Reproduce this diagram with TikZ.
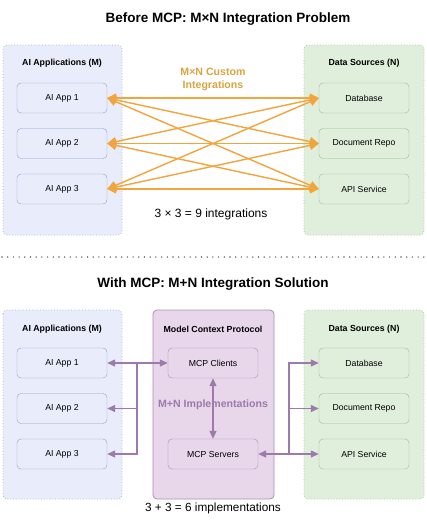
\documentclass[tikz,border=0pt]{standalone}
\usepackage{fontspec}
\setmainfont{Liberation Sans}
\usetikzlibrary{arrows.meta}

\definecolor{appfill}{HTML}{E9EDFB}
\definecolor{appline}{HTML}{8FA0C6}
\definecolor{srcfill}{HTML}{E0EFDC}
\definecolor{srcline}{HTML}{94BF88}
\definecolor{mcpfill}{HTML}{E8D6EB}
\definecolor{mcpline}{HTML}{A890B2}
\definecolor{orangeline}{HTML}{F2A53C}
\definecolor{orangetext}{HTML}{DBA43E}
\definecolor{purpleline}{HTML}{9C7AAA}

\tikzset{
  groupbox/.style={rounded corners=4pt, dotted, line width=0.8pt},
  appgroup/.style={groupbox, draw=appline!80, fill=appfill},
  srcgroup/.style={groupbox, draw=srcline!80, fill=srcfill},
  itembox/.style={draw, rounded corners=4pt, minimum width=90pt, minimum height=30pt,
    font=\fontsize{8.7}{10}\selectfont},
  appbox/.style={itembox, draw=appline, fill=appfill},
  srcbox/.style={itembox, draw=srcline, fill=srcfill},
  mcpbox/.style={itembox, draw=mcpline, fill=mcpfill},
  grouptitle/.style={font=\bfseries\fontsize{8.8}{10}\selectfont},
  bigtitle/.style={font=\bfseries\fontsize{13.5}{15}\selectfont},
  orangearrow/.style={draw=orangeline, line width=1.4pt, {Triangle[length=9pt,width=9pt]}-{Triangle[length=9pt,width=9pt]}},
  purplearrow/.style={draw=purpleline, line width=1.3pt},
  ptip/.style={-{Triangle[length=8pt,width=7pt]}},
  pboth/.style={{Triangle[length=8pt,width=7pt]}-{Triangle[length=8pt,width=7pt]}},
}

\begin{document}
\begin{tikzpicture}[x=1pt,y=-1pt]
  \useasboundingbox (0,0) rectangle (427,520);
  \fill[white] (0,0) rectangle (427,520);

  % ---- before MCP ----
  \node[bigtitle] (toptitle) at (228,19) {Before MCP: M×N Integration Problem};
  \draw[appgroup] (3,45) rectangle (122,235);
  \draw[srcgroup] (304,45) rectangle (424,235);
  \node[grouptitle] (apptitle) at (62,63) {AI Applications (M)};
  \node[grouptitle] (srctitle) at (364,63) {Data Sources (N)};

  \node[appbox] (app1) at (62,98) {AI App 1};
  \node[appbox] (app2) at (62,143.5) {AI App 2};
  \node[appbox] (app3) at (62,189) {AI App 3};
  \node[srcbox] (db) at (364,98) {Database};
  \node[srcbox] (doc) at (364,143.5) {Document Repo};
  \node[srcbox] (api) at (364,189) {API Service};

  \foreach \a in {app1,app2,app3}
    \foreach \d in {db,doc,api}
      \draw[orangearrow] (\a.east) -- (\d.west);

  \node[font=\bfseries\fontsize{10.6}{13}\selectfont, text=orangetext, align=center] (mxn) at (213,79.5) {M×N Custom\\Integrations};
  \node[font=\fontsize{12}{14}\selectfont] (nine) at (211,214) {3 × 3 = 9 integrations};

  % separator
  \draw[black!60, line width=1.6pt, line cap=round, dash pattern=on 0pt off 5.7pt] (2,257) -- (427,257);

  % ---- with MCP ----
  \node[bigtitle] (bottitle) at (213,284) {With MCP: M+N Integration Solution};
  \draw[appgroup] (3,310) rectangle (122,499);
  \draw[rounded corners=4pt, draw=mcpline, fill=mcpfill, line width=0.8pt] (153,310) rectangle (274,499);
  \draw[srcgroup] (304,310) rectangle (424,499);
  \node[grouptitle] (apptitleb) at (62,329) {AI Applications (M)};
  \node[grouptitle] (mcptitle) at (213,329) {Model Context Protocol};
  \node[grouptitle] (srctitleb) at (364,329) {Data Sources (N)};

  \node[appbox] (bapp1) at (62,363) {AI App 1};
  \node[appbox] (bapp2) at (62,408.5) {AI App 2};
  \node[appbox] (bapp3) at (62,454) {AI App 3};
  \node[mcpbox] (clients) at (213,363) {MCP Clients};
  \node[mcpbox] (servers) at (213,454) {MCP Servers};
  \node[srcbox] (bdb) at (364,363) {Database};
  \node[srcbox] (bdoc) at (364,408.5) {Document Repo};
  \node[srcbox] (bapi) at (364,454) {API Service};

  \coordinate (jleft) at (137,363);
  \coordinate (jright) at (289,454);
  \draw[purplearrow, pboth] (bapp1.east) -- (clients.west);
  \draw[purplearrow, ptip] (jleft) |- (bapp2.east);
  \draw[purplearrow, ptip] (jleft) |- (bapp3.east);
  \draw[purplearrow, pboth] (servers.east) -- (bapi.west);
  \draw[purplearrow, ptip] (jright) |- (bdb.west);
  \draw[purplearrow, ptip] (jright) |- (bdoc.west);
  \draw[purplearrow, pboth] (clients.south) -- (servers.north);

  \node[font=\bfseries\fontsize{10.6}{12}\selectfont, text=purpleline] (mpn) at (213,405) {M+N Implementations};
  \node[font=\fontsize{11.8}{14}\selectfont] (six) at (213,508) {3 + 3 = 6 implementations};
\end{tikzpicture}
\end{document}
